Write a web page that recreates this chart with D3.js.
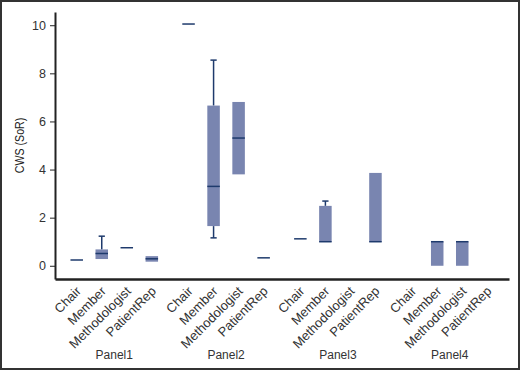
<!DOCTYPE html>
<html>
<head>
<meta charset="utf-8">
<script src="https://cdn.jsdelivr.net/npm/d3@7"></script>
<style>
    body { margin: 0; background: #fff; }
    svg { display: block; }
    .axis text { font-family: "Liberation Sans", Arial, sans-serif; fill: #333; }
</style>
</head>
<body>
<div id="chart"></div>
<script>

// panels and roles (x categories), values in panel order, 4 roles each
var panels = ["Panel1", "Panel2", "Panel3", "Panel4"];
var roles = ["Chair", "Member", "Methodologist", "PatientRep"];

var whiskerLow  = [0.24, 0.28, 0.75, 0.17,  10.05, 1.16, 3.80, 0.33,  1.12, 1.00, null, 1.00,  null, 0.00, 0.00, null];
var q1          = [0.24, 0.28, 0.75, 0.17,  10.05, 1.65, 3.80, 0.33,  1.12, 1.00, null, 1.00,  null, 0.00, 0.00, null];
var medians     = [0.24, 0.51, 0.75, 0.29,  10.05, 3.30, 5.31, 0.33,  1.12, 1.00, null, 1.00,  null, 1.00, 1.00, null];
var q3          = [0.24, 0.68, 0.75, 0.40,  10.05, 6.66, 6.81, 0.33,  1.12, 2.49, null, 3.86,  null, 1.00, 1.00, null];
var whiskerHigh = [0.24, 1.23, 0.75, 0.40,  10.05, 8.55, 6.81, 0.33,  1.12, 2.69, null, 3.86,  null, 1.00, 1.00, null];

var yTicks = [0, 2, 4, 6, 8, 10];

var width = 520, height = 370;
var margin = { top: 12, right: 11, bottom: 91, left: 55 };

var fill = "#7985b0";
var lineColor = "#1e3a6c";

var svg = d3.select("#chart").append("svg")
    .attr("width", width)
    .attr("height", height);

// outer frame
svg.append("rect")
    .attr("x", 1).attr("y", 1)
    .attr("width", width - 2).attr("height", height - 2)
    .attr("fill", "none")
    .attr("stroke", "#333")
    .attr("stroke-width", 2);

var y = d3.scaleLinear()
    .domain([-0.55, 10.55])
    .range([height - margin.bottom, margin.top]);

var xPanel = d3.scaleBand()
    .domain(panels)
    .range([margin.left, width - margin.right])
    .paddingOuter(0.03);

var xRole = d3.scaleBand()
    .domain(roles)
    .range([0, xPanel.bandwidth()])
    .paddingInner(0.5)
    .paddingOuter(0.484);

// flatten into rows
var rows = [];
panels.forEach(function (p, i) {
    roles.forEach(function (r, j) {
        var k = i * roles.length + j;
        if (medians[k] == null) return;
        rows.push({
            panel: p, role: r,
            lo: whiskerLow[k], q1: q1[k], med: medians[k], q3: q3[k], hi: whiskerHigh[k]
        });
    });
});

// y axis
var yAxis = svg.append("g")
    .attr("class", "axis")
    .attr("transform", "translate(" + margin.left + ",0)")
    .call(d3.axisLeft(y).tickValues(yTicks).tickSize(5).tickSizeOuter(0).tickPadding(4));
yAxis.select(".domain").attr("stroke", "#222").attr("stroke-width", 2);
yAxis.selectAll(".tick line").attr("stroke", "#222");
yAxis.selectAll("text").style("font-size", "12.5px");

// x axis line + panel labels
var xAxis = svg.append("g")
    .attr("class", "axis")
    .attr("transform", "translate(0," + (height - margin.bottom) + ")")
    .call(d3.axisBottom(xPanel).tickSize(0).tickSizeOuter(0).tickPadding(71));
xAxis.select(".domain").attr("stroke", "#222").attr("stroke-width", 2.5);
xAxis.selectAll("text").style("font-size", "12px");

// role labels per panel
panels.forEach(function (p) {
    var g = svg.append("g")
        .attr("class", "axis")
        .attr("transform", "translate(" + xPanel(p) + "," + (height - margin.bottom) + ")")
        .call(d3.axisBottom(xRole).tickSize(0).tickSizeOuter(0));
    g.select(".domain").remove();
    g.selectAll("text")
        .style("font-size", "13px")
        .style("text-anchor", "end")
        .attr("y", 0)
        .attr("dy", 0)
        .attr("transform", "translate(5,13) rotate(-45)");
});

// y axis title (condensed look)
svg.append("text")
    .attr("transform", "translate(24," + ((height - margin.bottom + margin.top) / 2) + ") rotate(-90) scale(0.82,1)")
    .attr("text-anchor", "middle")
    .style("font-family", "'Liberation Sans', Arial, sans-serif")
    .style("font-size", "13px")
    .style("fill", "#222")
    .text("CWS (SoR)");

var plot = svg.append("g");

function cx(d) { return xPanel(d.panel) + xRole(d.role) + xRole.bandwidth() / 2; }
var bw = xRole.bandwidth();

// whiskers
var w = plot.selectAll(".whisker").data(rows).enter().append("g").attr("class", "whisker");
w.filter(function (d) { return d.hi > d.q3; }).each(function (d) {
    var g = d3.select(this);
    g.append("line").attr("x1", cx(d)).attr("x2", cx(d)).attr("y1", y(d.q3)).attr("y2", y(d.hi));
    g.append("line").attr("x1", cx(d) - bw * 0.25).attr("x2", cx(d) + bw * 0.25).attr("y1", y(d.hi)).attr("y2", y(d.hi));
});
w.filter(function (d) { return d.lo < d.q1; }).each(function (d) {
    var g = d3.select(this);
    g.append("line").attr("x1", cx(d)).attr("x2", cx(d)).attr("y1", y(d.q1)).attr("y2", y(d.lo));
    g.append("line").attr("x1", cx(d) - bw * 0.25).attr("x2", cx(d) + bw * 0.25).attr("y1", y(d.lo)).attr("y2", y(d.lo));
});
w.selectAll("line").attr("stroke", lineColor).attr("stroke-width", 1.5);

// boxes
plot.selectAll(".box").data(rows).enter().append("rect")
    .attr("class", "box")
    .attr("x", function (d) { return cx(d) - bw / 2; })
    .attr("width", bw)
    .attr("y", function (d) { return y(d.q3); })
    .attr("height", function (d) { return y(d.q1) - y(d.q3); })
    .attr("fill", fill);

// medians
plot.selectAll(".median").data(rows).enter().append("line")
    .attr("class", "median")
    .attr("x1", function (d) { return cx(d) - bw / 2; })
    .attr("x2", function (d) { return cx(d) + bw / 2; })
    .attr("y1", function (d) { return y(d.med); })
    .attr("y2", function (d) { return y(d.med); })
    .attr("stroke", lineColor)
    .attr("stroke-width", 1.5);

</script>
</body>
</html>
